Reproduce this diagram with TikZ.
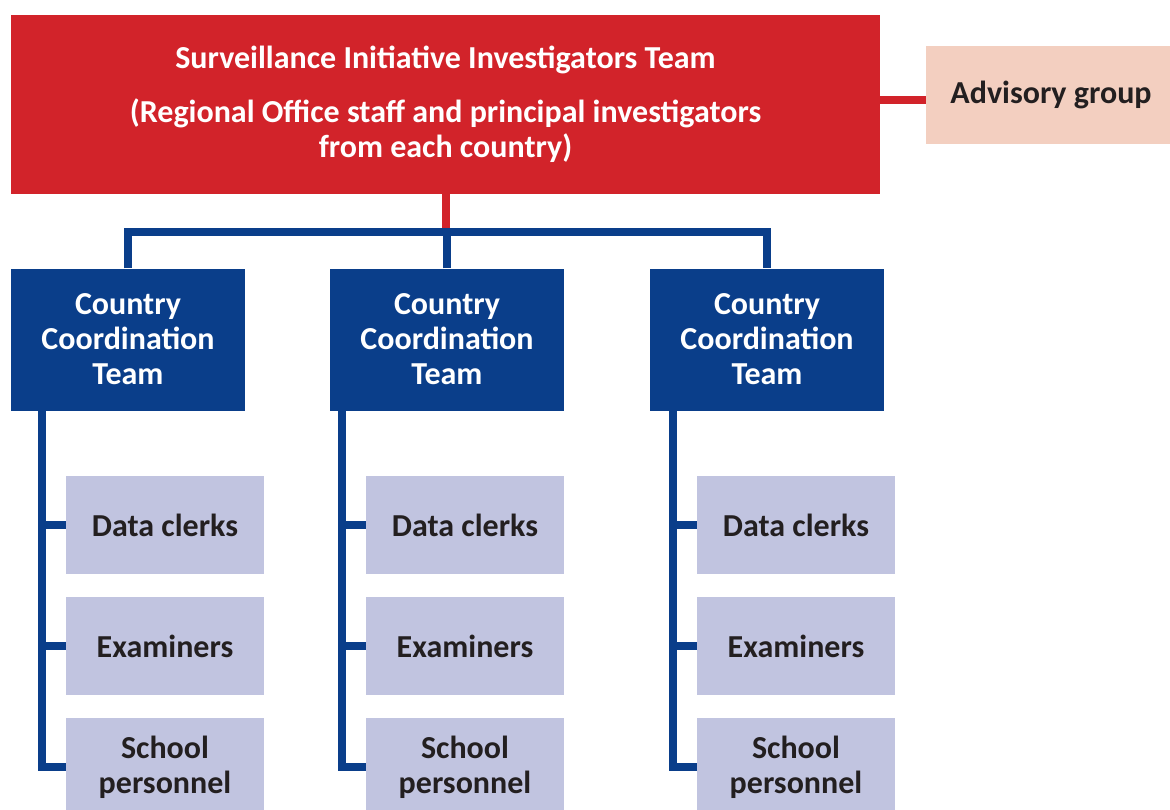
\documentclass[tikz,border=0pt]{standalone}
\usepackage{fontspec}
\setmainfont{Carlito}
\usepackage{tikz}
\usetikzlibrary{positioning}

\definecolor{sitred}{HTML}{D2232A}
\definecolor{ccblue}{HTML}{0A3E8A}
\definecolor{advpink}{HTML}{F3CFC0}
\definecolor{stafflav}{HTML}{C1C4E0}
\definecolor{darktext}{HTML}{231F20}

\tikzset{
  sitbox/.style={fill=sitred, text=white, align=center, inner sep=0pt,
    minimum width=869pt, minimum height=179pt},
  advbox/.style={fill=advpink, text=darktext, inner sep=0pt,
    minimum width=244pt, minimum height=98pt},
  teambox/.style={fill=ccblue, text=white, align=center, inner sep=0pt,
    minimum width=234pt, minimum height=142pt},
  staffbox/.style={fill=stafflav, text=darktext, align=center, inner sep=0pt,
    minimum width=198pt, minimum height=98pt},
  redline/.style={draw=sitred, line width=8pt},
  blueline/.style={draw=ccblue, line width=8pt},
}

\begin{document}
\begin{tikzpicture}[x=1pt, y=1pt, font=\fontsize{32}{35}\selectfont\bfseries]
\useasboundingbox (0,0) rectangle (1170,-809);
\clip (0,0) rectangle (1170,-809);

%top level
\node[sitbox] (sit) at (445.5,-104.5)
  {Surveillance Initiative Investigators Team\\[19pt]
   (Regional Office staff and principal investigators\\ from each country)};
\node[advbox] (adv) at (1048,-95) {\hspace*{6pt}Advisory group};

%country teams
\node[teambox] (team1) at (128,-339.5) {Country\\Coordination\\Team};
\node[teambox] (team2) at (447,-339.5) {Country\\Coordination\\Team};
\node[teambox] (team3) at (767,-339.5) {Country\\Coordination\\Team};

%staff
\node[staffbox] (data1) at (165,-525) {Data clerks};
\node[staffbox] (exam1) at (165,-646) {Examiners};
\node[staffbox] (school1) at (165,-767) {School\\personnel};
\node[staffbox] (data2) at (465,-525) {Data clerks};
\node[staffbox] (exam2) at (465,-646) {Examiners};
\node[staffbox] (school2) at (465,-767) {School\\personnel};
\node[staffbox] (data3) at (796,-525) {Data clerks};
\node[staffbox] (exam3) at (796,-646) {Examiners};
\node[staffbox] (school3) at (796,-767) {School\\personnel};

\coordinate (bus) at (446,-231.5);
\coordinate (s1) at (42,-410.5);
\coordinate (s2) at (342,-410.5);
\coordinate (s3) at (673,-410.5);

%connectors
\path[redline]
([yshift=-5pt]adv.west) -- ([yshift=-5pt]adv.west -| sit.east)
(sit.south) -- (sit.south |- bus);
\path[blueline]
(team1.north) |- (team3.north |- bus) -- (team3.north)
(team2.north) -- (team2.north |- bus);
\path[blueline]
(s1) |- (school1.west) (s1 |- data1) -- (data1) (s1 |- exam1) -- (exam1)
(s2) |- (school2.west) (s2 |- data2) -- (data2) (s2 |- exam2) -- (exam2)
(s3) |- (school3.west) (s3 |- data3) -- (data3) (s3 |- exam3) -- (exam3);
\end{tikzpicture}
\end{document}
